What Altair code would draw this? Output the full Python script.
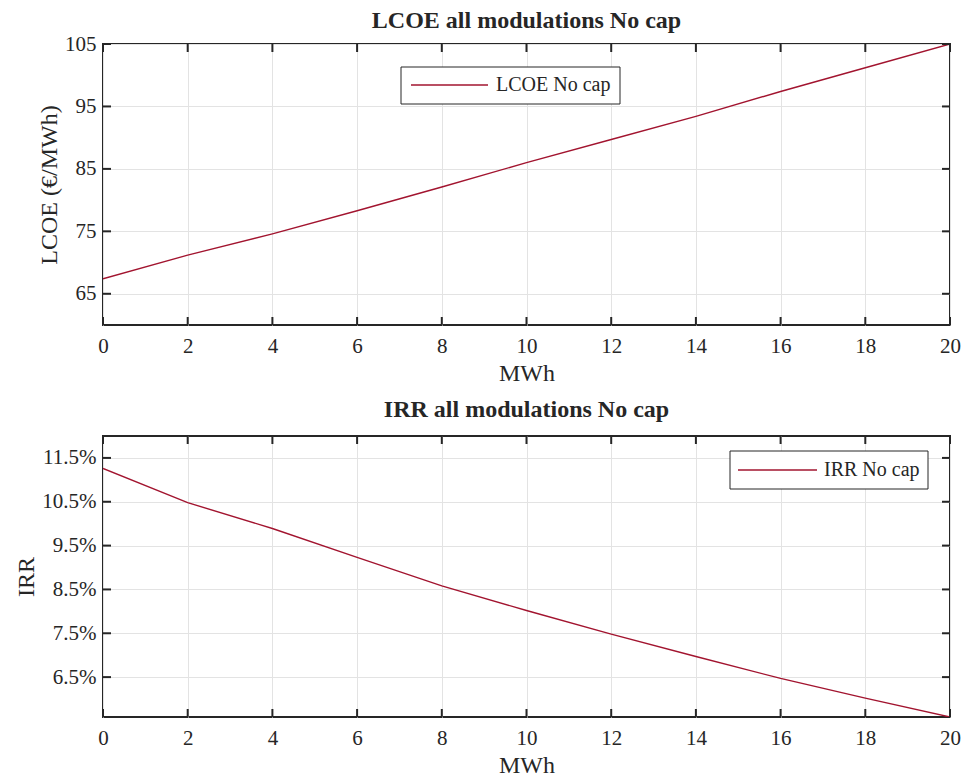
import altair as alt
import pandas as pd

# ---------------- data ----------------
mwh = [0, 2, 4, 6, 8, 10, 12, 14, 16, 18, 20]
lcoe = [67.4, 71.2, 74.6, 78.3, 82.1, 86.0, 89.7, 93.4, 97.4, 101.2, 105.0]
irr_pct = [11.26, 10.48, 9.89, 9.23, 8.58, 8.02, 7.48, 6.97, 6.47, 6.02, 5.59]

x_ticks = [0, 2, 4, 6, 8, 10, 12, 14, 16, 18, 20]
lcoe_ticks = [65, 75, 85, 95, 105]
irr_ticks = [6.5, 7.5, 8.5, 9.5, 10.5, 11.5]

lcoe_label = "LCOE No cap"
irr_label = "IRR No cap"

# ---------------- style ----------------
W, H = 847, 281
FONT = "Liberation Serif"
TXT = "#262626"
RED = "#a2142f"
GRID = "#e3e3e3"


def panel(ycol, yvals, ydomain, yticks, ytitle, label_expr, title, title_offset, legend_label, lg):
    df = pd.DataFrame({"MWh": mwh, ycol: yvals})
    xt = pd.DataFrame({"MWh": x_ticks})
    yt = pd.DataFrame({ycol: yticks})
    lab = pd.DataFrame({"label": [legend_label]})

    xscale = alt.Scale(domain=[0, 20], nice=False, zero=False)
    yscale = alt.Scale(domain=ydomain, nice=False, zero=False)
    xaxis = alt.Axis(values=x_ticks, title="MWh", grid=True, tickSize=0, ticks=False,
                     labelPadding=10, titlePadding=5, domain=False,
                     labelFlush=False, labelOverlap=False)
    yaxis_kw = dict(values=yticks, title=ytitle, grid=True, tickSize=0, ticks=False,
                    labelPadding=7, titlePadding=3, domain=False,
                    labelFlush=False, labelOverlap=False)
    if label_expr:
        yaxis_kw["labelExpr"] = label_expr
    yaxis = alt.Axis(**yaxis_kw)
    x_enc = alt.X("MWh:Q", scale=xscale, axis=xaxis)
    y_enc = alt.Y(f"{ycol}:Q", scale=yscale, axis=yaxis)

    line = alt.Chart(df).mark_line(color=RED, strokeWidth=1.4, clip=True).encode(x=x_enc, y=y_enc)

    tick_style = dict(color=TXT, strokeWidth=2)
    xt_bot = alt.Chart(xt).mark_rule(**tick_style).encode(x=x_enc, y=alt.value(H), y2=alt.value(H - 8))
    xt_top = alt.Chart(xt).mark_rule(**tick_style).encode(x=x_enc, y=alt.value(0), y2=alt.value(8))
    yt_left = alt.Chart(yt).mark_rule(**tick_style).encode(y=y_enc, x=alt.value(0), x2=alt.value(8))
    yt_right = alt.Chart(yt).mark_rule(**tick_style).encode(y=y_enc, x=alt.value(W - 8), x2=alt.value(W))

    box = alt.Chart(lab).mark_rect(fill="white", stroke=TXT, strokeWidth=1).encode(
        x=alt.value(lg["bx0"]), x2=alt.value(lg["bx1"]), y=alt.value(lg["by0"]), y2=alt.value(lg["by1"]))
    sample = alt.Chart(lab).mark_rule(color=RED, strokeWidth=1.4).encode(
        x=alt.value(lg["lx0"]), x2=alt.value(lg["lx1"]), y=alt.value(lg["ly"]))
    text = alt.Chart(lab).mark_text(align="left", baseline="middle", font=FONT, fontSize=20, color=TXT).encode(
        x=alt.value(lg["tx"]), y=alt.value(lg["ly"]), text="label:N")

    return alt.layer(line, xt_bot, xt_top, yt_left, yt_right, box, sample, text).properties(
        width=W, height=H,
        title=alt.TitleParams(title, font=FONT, fontSize=24, fontWeight="bold", color=TXT,
                              offset=title_offset, frame="group"),
    )


top = panel("LCOE", lcoe, [60, 105], lcoe_ticks, "LCOE (€/MWh)", None,
            "LCOE all modulations No cap", 0, lcoe_label,
            dict(bx0=298, bx1=517, by0=23, by1=60, lx0=308, lx1=385, ly=41, tx=393))
bottom = panel("IRR", irr_pct, [5.59, 12.0], irr_ticks, "IRR", "format(datum.value, '.1f') + '%'",
               "IRR all modulations No cap", 13, irr_label,
               dict(bx0=W - 220, bx1=W - 22, by0=15, by1=53, lx0=W - 212, lx1=W - 133, ly=34, tx=W - 126))

chart = alt.vconcat(
    top, bottom, spacing=11, background="white",
    padding={"left": 5, "top": 0, "right": 0, "bottom": 0},
).configure_view(
    stroke=TXT, strokeWidth=2
).configure_axis(
    labelFont=FONT, labelFontSize=21, labelColor=TXT,
    titleFont=FONT, titleFontSize=24, titleFontWeight="normal", titleColor=TXT,
    gridColor=GRID, gridWidth=1,
)

chart.save("out.html", embed_options={"renderer": "svg", "actions": False})
